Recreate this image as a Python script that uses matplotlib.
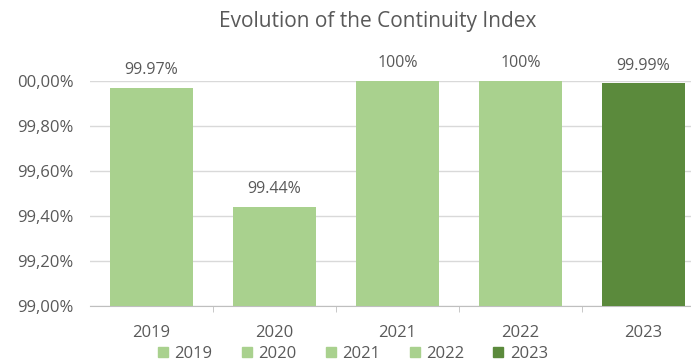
import matplotlib.pyplot as plt
from matplotlib.patches import Patch
from matplotlib.ticker import FixedLocator

plt.rcParams['font.family'] = ['Open Sans', 'DejaVu Sans']

# 数据
years = ['2019', '2020', '2021', '2022', '2023']
index_values = [99.97, 99.44, 100.0, 100.0, 99.99]
ytick_values = [99.0, 99.2, 99.4, 99.6, 99.8, 100.0]
ytick_labels = ['99,00%', '99,20%', '99,40%', '99,60%', '99,80%', '00,00%']
title = 'Evolution of the Continuity Index'

light_green = '#A9D18E'
dark_green = '#5B8A3C'
text_gray = '#595959'
colors = [light_green, light_green, light_green, light_green, dark_green]

W, H = 691, 364
fig = plt.figure(figsize=(W / 100, H / 100), dpi=100)
# 坐标区域（右侧超出画布，与原图一样被截断）
ax = fig.add_axes([90 / W, 58 / H, 615 / W, 225 / H])

x = list(range(len(years)))
ax.bar(x, [v - 99.0 for v in index_values], bottom=99.0, width=0.67,
       color=colors, zorder=3)

ax.set_xlim(-0.5, len(years) - 0.5)
ax.set_ylim(99.0, 100.0)
ax.set_yticks(ytick_values)
ax.set_yticklabels(ytick_labels, color=text_gray, fontsize=12)
ax.set_xticks(x)
ax.set_xticklabels(years, color=text_gray, fontsize=12)
ax.xaxis.set_minor_locator(FixedLocator([i + 0.5 for i in x[:-1]]))
ax.tick_params(axis='x', which='major', length=0, pad=14)
ax.tick_params(axis='x', which='minor', length=4, color='#BFBFBF')
ax.tick_params(axis='y', length=0, pad=12)

ax.grid(axis='y', color='#D9D9D9', linewidth=1, zorder=0)
for side in ['top', 'right', 'left']:
    ax.spines[side].set_visible(False)
ax.spines['bottom'].set_color('#BFBFBF')

# 数据标签
for xi, v in zip(x, index_values):
    ax.annotate(f'{v:g}%', (xi, v), xytext=(0, 7), textcoords='offset points',
                ha='center', va='bottom', color=text_gray, fontsize=11.5)

fig.text(378 / W, 1 - 21 / H, title, ha='center', va='center',
         color=text_gray, fontsize=15)

handles = [Patch(color=c, label=y) for c, y in zip(colors, years)]
fig.legend(handles=handles, loc='center', bbox_to_anchor=(353 / W, 1 - 354 / H),
           ncol=5, frameon=False, fontsize=12, handlelength=0.6, handleheight=0.6,
           handletextpad=0.4, columnspacing=1.75, labelcolor=text_gray)

fig.savefig('out.png', dpi=100)
